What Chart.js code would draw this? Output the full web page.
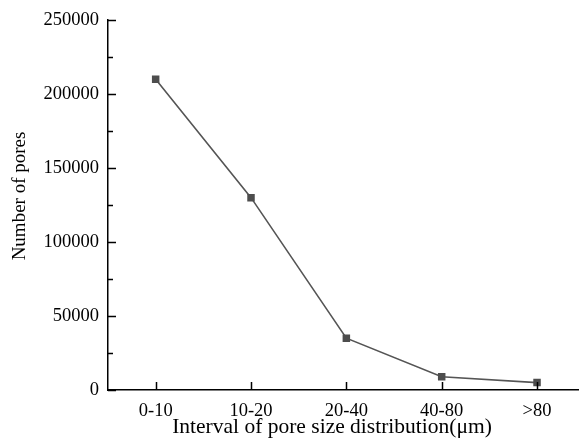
<!DOCTYPE html>
<html>
<head>
<meta charset="utf-8">
<script src="https://cdn.jsdelivr.net/npm/chart.js@4/dist/chart.umd.min.js"></script>
<style>
  html, body { margin: 0; padding: 0; background: #fff; overflow: hidden; }
  #wrap { width: 590px; height: 443px; }
</style>
</head>
<body>
<div id="wrap"><canvas id="poreChart" width="590" height="443"></canvas></div>
<script>
const intervals = ['0-10', '10-20', '20-40', '40-80', '>80'];
const poreCounts = [210000, 130000, 35000, 9000, 5000];
const xTitle = 'Interval of pore size distribution(\u03bcm)';
const yTitle = 'Number of pores';

const serif = '"Times New Roman", "Liberation Serif", "DejaVu Serif", serif';

// ticks point inward, minor ones every 25000 — drawn by hand
const inwardTicks = {
  id: 'inwardTicks',
  afterDraw(chart) {
    const ctx = chart.ctx;
    const x = chart.scales.x, y = chart.scales.y;
    const area = chart.chartArea;
    ctx.save();
    ctx.strokeStyle = '#000';
    ctx.lineWidth = 1.5;
    ctx.beginPath();
    for (let v = 0; v <= 250000; v += 25000) {
      const py = Math.round(y.getPixelForValue(v)) + 0.5;
      const len = (v % 50000 === 0) ? 8 : 5;
      ctx.moveTo(area.left, py);
      ctx.lineTo(area.left + len, py);
    }
    for (let i = 0; i < intervals.length; i++) {
      const px = Math.round(x.getPixelForValue(i)) + 0.5;
      ctx.moveTo(px, area.bottom);
      ctx.lineTo(px, area.bottom - 8);
    }
    ctx.stroke();

    ctx.fillStyle = '#000';
    ctx.textAlign = 'center';
    ctx.textBaseline = 'alphabetic';
    ctx.font = '21.5px ' + serif;
    ctx.fillText(xTitle, 332, 433);
    ctx.font = '19px ' + serif;
    ctx.translate(25, 196);
    ctx.rotate(-Math.PI / 2);
    ctx.fillText(yTitle, 0, 0);
    ctx.restore();
  }
};

new Chart(document.getElementById('poreChart'), {
  type: 'line',
  data: {
    labels: intervals,
    datasets: [{
      data: poreCounts,
      borderColor: '#555555',
      borderWidth: 1.6,
      backgroundColor: '#4d4d4d',
      pointStyle: 'rect',
      pointRadius: 5.3,
      pointBorderWidth: 0,
      pointBackgroundColor: '#4d4d4d',
      tension: 0
    }]
  },
  options: {
    responsive: false,
    animation: false,
    layout: { padding: { top: 20, right: 4, left: 0, bottom: 0 } },
    plugins: { legend: { display: false }, tooltip: { enabled: false } },
    scales: {
      x: {
        type: 'category',
        offset: true,
        grid: { display: false, drawTicks: false },
        border: { display: true, color: '#000', width: 1.5 },
        ticks: { color: '#000', padding: 10, font: { family: serif, size: 18.5 }, maxRotation: 0 },
        afterFit(scale) { scale.height = 53; }
      },
      y: {
        min: 0,
        max: 250000,
        grid: { display: false, drawTicks: false },
        border: { display: true, color: '#000', width: 1.5 },
        ticks: {
          stepSize: 25000,
          color: '#000',
          padding: 9,
          font: { family: serif, size: 18.5 },
          callback: v => (v % 50000 === 0 ? String(v) : '')
        },
        afterFit(scale) { scale.width = 108; }
      }
    }
  },
  plugins: [inwardTicks]
});
</script>
</body>
</html>
